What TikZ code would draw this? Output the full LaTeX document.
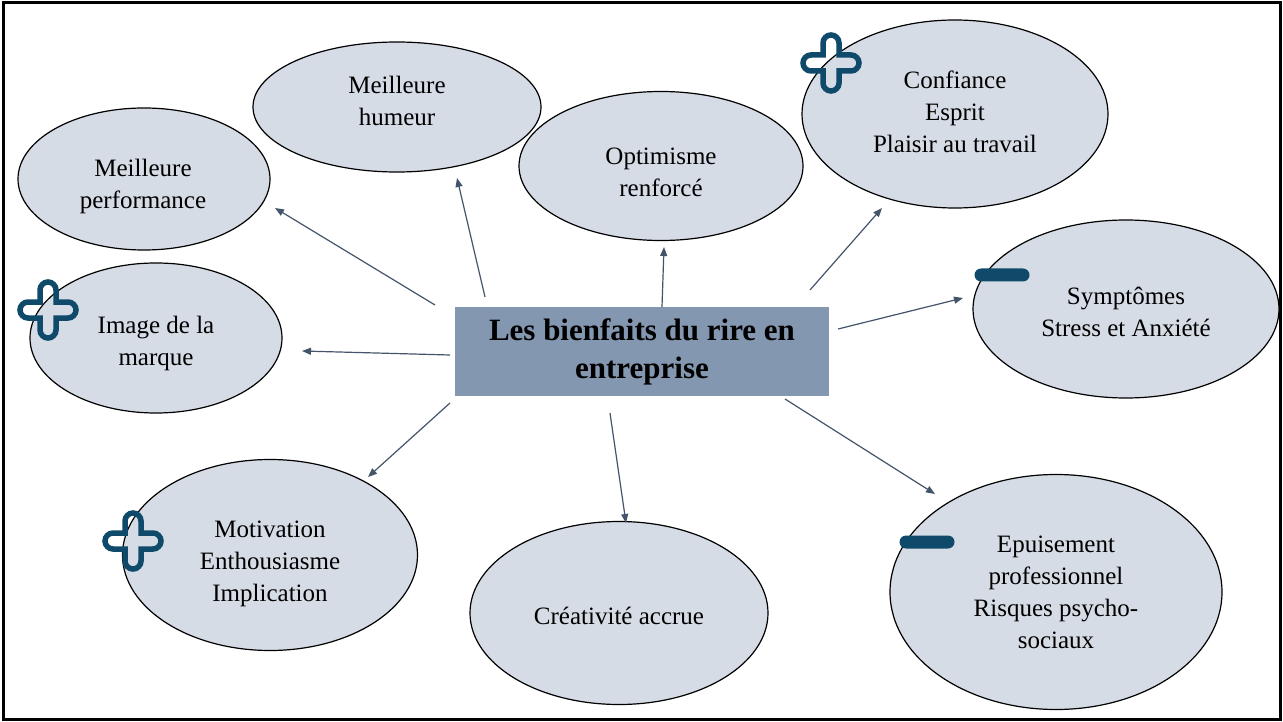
\documentclass[tikz,border=0pt]{standalone}
\usepackage{fontspec}
\setmainfont{Liberation Serif}
\usetikzlibrary{shapes.geometric,arrows.meta}
\definecolor{ellfill}{HTML}{D6DCE5}
\definecolor{boxfill}{HTML}{8497B0}
\definecolor{arrowc}{HTML}{44546A}
\definecolor{signc}{HTML}{0F4A6A}
\tikzset{
 bubble/.style={ellipse, draw=black, line width=1.2pt, fill=ellfill, inner sep=0pt},
 bubbletext/.style={align=center, inner sep=0pt, font=\fontsize{25}{32}\selectfont},
 centerbox/.style={rectangle, fill=boxfill, minimum width=374pt, minimum height=89pt, inner sep=0pt, align=center, font=\fontsize{31}{38}\selectfont\bfseries},
 link/.style={draw=arrowc, line width=1.2pt, -{Triangle[length=9pt,width=7pt]}},
 plussign/.style={draw=signc, line width=5.5pt},
 minussign/.style={rectangle, fill=signc, rounded corners=6.5pt, minimum width=55pt, minimum height=13pt, inner sep=0pt},
 plusmark/.pic={\draw[plussign] (-8,-8) -- (-8,-20) arc(180:360:8) -- (8,-8) -- (20,-8) arc(270:450:8) -- (8,8) -- (8,20) arc(0:180:8) -- (-8,8) -- (-20,8) arc(90:270:8) -- cycle;},
}
\begin{document}
\begin{tikzpicture}[x=1pt,y=-1pt]
\useasboundingbox (0,0) rectangle (1283,722);
\fill[white] (0,0) rectangle (1283,722);
\draw[line width=3pt, black] (3.5,3) rectangle (1280.5,719);

% ellipses
\node[bubble, minimum width=252pt, minimum height=142pt] (perf) at (144,179) {};
\node[bubble, minimum width=288pt, minimum height=130pt] (hum) at (397,107) {};
\node[bubble, minimum width=284pt, minimum height=149pt] (opt) at (661,166) {};
\node[bubble, minimum width=306pt, minimum height=188pt] (conf) at (955,114) {};
\node[bubble, minimum width=306pt, minimum height=178pt] (sympt) at (1126,309) {};
\node[bubble, minimum width=252pt, minimum height=150pt] (img) at (156,338) {};
\node[bubble, minimum width=295pt, minimum height=191pt] (motiv) at (270,555) {};
\node[bubble, minimum width=298pt, minimum height=183pt] (crea) at (619,613) {};
\node[bubble, minimum width=332pt, minimum height=235pt] (epuis) at (1056,592) {};

% texts
\node[bubbletext] (perf-t) at (143,186) {Meilleure\\performance};
\node[bubbletext] (hum-t) at (397,101) {Meilleure\\humeur};
\node[bubbletext] (opt-t) at (661,172) {Optimisme\\renforcé};
\node[bubbletext] (conf-t) at (955,112) {Confiance\\Esprit\\Plaisir au travail};
\node[bubbletext] (sympt-t) at (1126,312) {Symptômes\\Stress et Anxiété};
\node[bubbletext] (img-t) at (156,343) {Image de la\\marque};
\node[bubbletext] (motiv-t) at (270,564) {Motivation\\Enthousiasme\\Implication};
\node[bubbletext] (crea-t) at (619,616) {Créativité accrue};
\node[bubbletext] (epuis-t) at (1056,592) {Epuisement\\professionnel\\Risques psycho-\\sociaux};

% central box
\node[centerbox] (center) at (642,351.5) {Les bienfaits du rire en\\entreprise};

% signs
\pic at (831,63) {plusmark};
\pic at (48,310) {plusmark};
\pic at (133,541) {plusmark};
\node[minussign] (m1) at (1002,275) {};
\node[minussign] (m2) at (927,542) {};

% arrow end points
\coordinate (s1) at (435,305); \coordinate (e1) at (275,208);
\coordinate (s2) at (485,297); \coordinate (e2) at (457,178);
\coordinate (s3) at (662,307); \coordinate (e3) at (664,247);
\coordinate (s4) at (810,290); \coordinate (e4) at (882,208);
\coordinate (s5) at (838,329); \coordinate (e5) at (963,298);
\coordinate (s6) at (450,355); \coordinate (e6) at (302,351);
\coordinate (s7) at (450,403); \coordinate (e7) at (368,477);
\coordinate (s8) at (610,413); \coordinate (e8) at (626,523);
\coordinate (s9) at (785,399); \coordinate (e9) at (935,494);
\foreach \i in {1,...,9} {\draw[link] (s\i) -- (e\i);}
\end{tikzpicture}
\end{document}
